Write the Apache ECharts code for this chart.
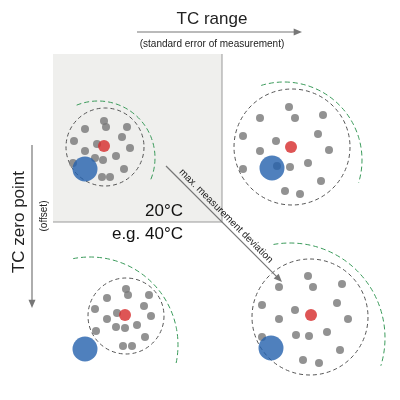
<!DOCTYPE html>
<html>
<head>
<meta charset="UTF-8">
<script src="https://cdn.jsdelivr.net/npm/echarts@6/dist/echarts.min.js"></script>
<style>html,body{margin:0;padding:0;background:#fff}#main{width:400px;height:400px}</style>
</head>
<body>
<div id="main"></div>
<script>
// dot positions per panel (diagram units = pixels)
var greyDots = [
  [104,121],[106,127],[85,129],[127,127],[74,141],[122,137],[130,148],[85,151],[97,144],[116,156],[103,160],[95,158],[73,163],[124,169],[102,177],[110,177],
  [289,107],[260,118],[295,118],[323,115],[243,136],[318,134],[276,141],[260,151],[329,150],[308,163],[290,167],[277,166],[243,169],[321,181],[285,191],[300,194],
  [126,289],[128,295],[107,298],[149,295],[95,309],[144,306],[151,316],[107,319],[117,313],[137,325],[125,328],[116,327],[96,331],[145,337],[123,346],[132,346],
  [308,276],[279,287],[313,287],[342,284],[262,305],[337,303],[295,310],[279,319],[348,319],[327,332],[309,336],[296,335],[262,337],[340,350],[303,360],[319,363]
];
var redDots = [[104,146],[291,147],[125,315],[311,315]];
var blueDots = [[85,169],[272,168],[85,349],[271,348]];
// dashed error circles: cx, cy, r
var errCircles = [[105,147,39],[292,147,58],[126,316,38],[310,317,58]];
// green deviation arcs: cx, cy, r, start deg, end deg
var devArcs = [[98,158,57,-112,24],[284,160,78,-107,17],[90,345,88,-101,12],[290,338,95,-100,17]];

var chart = echarts.init(document.getElementById('main'));
var g = [];
g.push({type:'rect', z:0, shape:{x:53,y:54,width:169,height:168}, style:{fill:'#efefed'}});
g.push({type:'polyline', shape:{points:[[222,54],[222,222],[53,222]]}, style:{stroke:'#999',lineWidth:1,fill:null}});
errCircles.forEach(function(c){
  g.push({type:'circle', shape:{cx:c[0],cy:c[1],r:c[2]}, style:{fill:null,stroke:'#555',lineWidth:1,lineDash:[4,3]}});
});
devArcs.forEach(function(a){
  g.push({type:'arc', shape:{cx:a[0],cy:a[1],r:a[2],startAngle:a[3]*Math.PI/180,endAngle:a[4]*Math.PI/180,clockwise:true},
    style:{fill:null,stroke:'#3a9a5a',lineWidth:1,lineDash:[5,3]}});
});
function arrow(x1,y1,x2,y2){
  var ang = Math.atan2(y2-y1,x2-x1), L = 9, w = 0.4;
  g.push({type:'line', shape:{x1:x1,y1:y1,x2:x2-Math.cos(ang)*L*0.8,y2:y2-Math.sin(ang)*L*0.8}, style:{stroke:'#777',lineWidth:1.2}});
  g.push({type:'polygon', shape:{points:[[x2,y2],[x2-L*Math.cos(ang-w),y2-L*Math.sin(ang-w)],[x2-L*Math.cos(ang+w),y2-L*Math.sin(ang+w)]]}, style:{fill:'#777'}});
}
arrow(137,32,302,32);
arrow(32,145,32,308);
arrow(166,166,282,282);
var ff = 'Liberation Sans, Arial, sans-serif';
g.push({type:'text', x:212, y:19, style:{text:'TC range', font:'17px '+ff, fill:'#222', align:'center', verticalAlign:'middle'}});
g.push({type:'text', x:212, y:44, style:{text:'(standard error of measurement)', font:'10px '+ff, fill:'#222', align:'center', verticalAlign:'middle'}});
g.push({type:'text', x:19, y:222, rotation:Math.PI/2, style:{text:'TC zero point', font:'17px '+ff, fill:'#222', align:'center', verticalAlign:'middle'}});
g.push({type:'text', x:44, y:216, rotation:Math.PI/2, style:{text:'(offset)', font:'10px '+ff, fill:'#222', align:'center', verticalAlign:'middle'}});
g.push({type:'text', x:183, y:211, style:{text:'20°C', font:'17px '+ff, fill:'#111', align:'right', verticalAlign:'middle'}});
g.push({type:'text', x:183, y:234, style:{text:'e.g. 40°C', font:'17px '+ff, fill:'#111', align:'right', verticalAlign:'middle'}});
g.push({type:'text', x:226, y:216, rotation:-Math.PI/4, style:{text:'max. measurement deviation', font:'10px '+ff, fill:'#222', align:'center', verticalAlign:'middle'}});

chart.setOption({
  animation:false,
  grid:{left:0,right:0,top:0,bottom:0},
  xAxis:{type:'value',min:0,max:400,show:false},
  yAxis:{type:'value',min:0,max:400,inverse:true,show:false},
  graphic:g,
  series:[
    {type:'scatter', data:greyDots, symbolSize:8, itemStyle:{color:'#777'}, z:3},
    {type:'scatter', data:redDots, symbolSize:12, itemStyle:{color:'#d62a2a'}, z:4},
    {type:'scatter', data:blueDots, symbolSize:25, itemStyle:{color:'#2360ad'}, z:5}
  ]
});
</script>
</body>
</html>
